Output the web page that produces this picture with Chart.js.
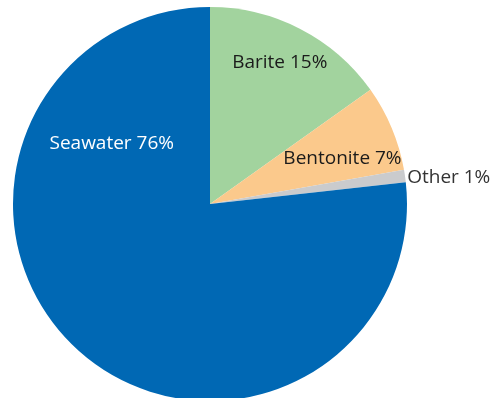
<!DOCTYPE html>
<html>
<head>
<meta charset="utf-8">
<script src="https://cdn.jsdelivr.net/npm/chart.js@4/dist/chart.umd.min.js"></script>
<style>
  html, body { margin: 0; padding: 0; background: #fff; }
  #wrap { width: 493px; height: 398px; overflow: hidden; position: relative; }
  #box { width: 493px; height: 408px; }
</style>
</head>
<body>
<div id="wrap"><div id="box"><canvas id="c"></canvas></div></div>
<script>
// Drilling fluid composition (share of total, %)
const categories = ['Barite', 'Bentonite', 'Other', 'Seawater'];
const shares = [15, 7, 1, 76];
const colors = ['#A2D39E', '#FBC98C', '#CACBCD', '#0068B4'];
const labelColors = ['#1b1b1b', '#1b1b1b', '#333333', '#ffffff'];

// label placement relative to each slice: angle offset from slice middle (deg),
// distance as a fraction of the radius, and text alignment
const labelPlace = [
  { dAng: -1, r: 0.80, align: 'center' },
  { dAng: 4, r: 0.71, align: 'center' },
  { dAng: 0.5, r: 1.01, align: 'left' },
  { dAng: 79.7, r: 0.585, align: 'center' }
];

const sliceLabels = {
  id: 'sliceLabels',
  afterDatasetsDraw(chart) {
    const ctx = chart.ctx;
    const meta = chart.getDatasetMeta(0);
    ctx.save();
    ctx.font = '19px "Open Sans"';
    ctx.textBaseline = 'middle';
    meta.data.forEach((arc, i) => {
      const p = labelPlace[i];
      const mid = (arc.startAngle + arc.endAngle) / 2 + p.dAng * Math.PI / 180;
      const rr = arc.outerRadius * p.r;
      const x = arc.x + Math.cos(mid) * rr;
      const y = arc.y + Math.sin(mid) * rr;
      ctx.fillStyle = labelColors[i];
      ctx.textAlign = p.align;
      ctx.fillText(categories[i] + ' ' + shares[i] + '%', x, y);
    });
    ctx.restore();
  }
};

new Chart(document.getElementById('c'), {
  type: 'pie',
  data: {
    labels: categories,
    datasets: [{
      data: shares,
      backgroundColor: colors,
      borderWidth: 0
    }]
  },
  options: {
    responsive: true,
    maintainAspectRatio: false,
    animation: false,
    layout: { padding: { top: 7, bottom: 7, left: 13, right: 86 } },
    plugins: { legend: { display: false }, tooltip: { enabled: false } }
  },
  plugins: [sliceLabels]
});
</script>
</body>
</html>
